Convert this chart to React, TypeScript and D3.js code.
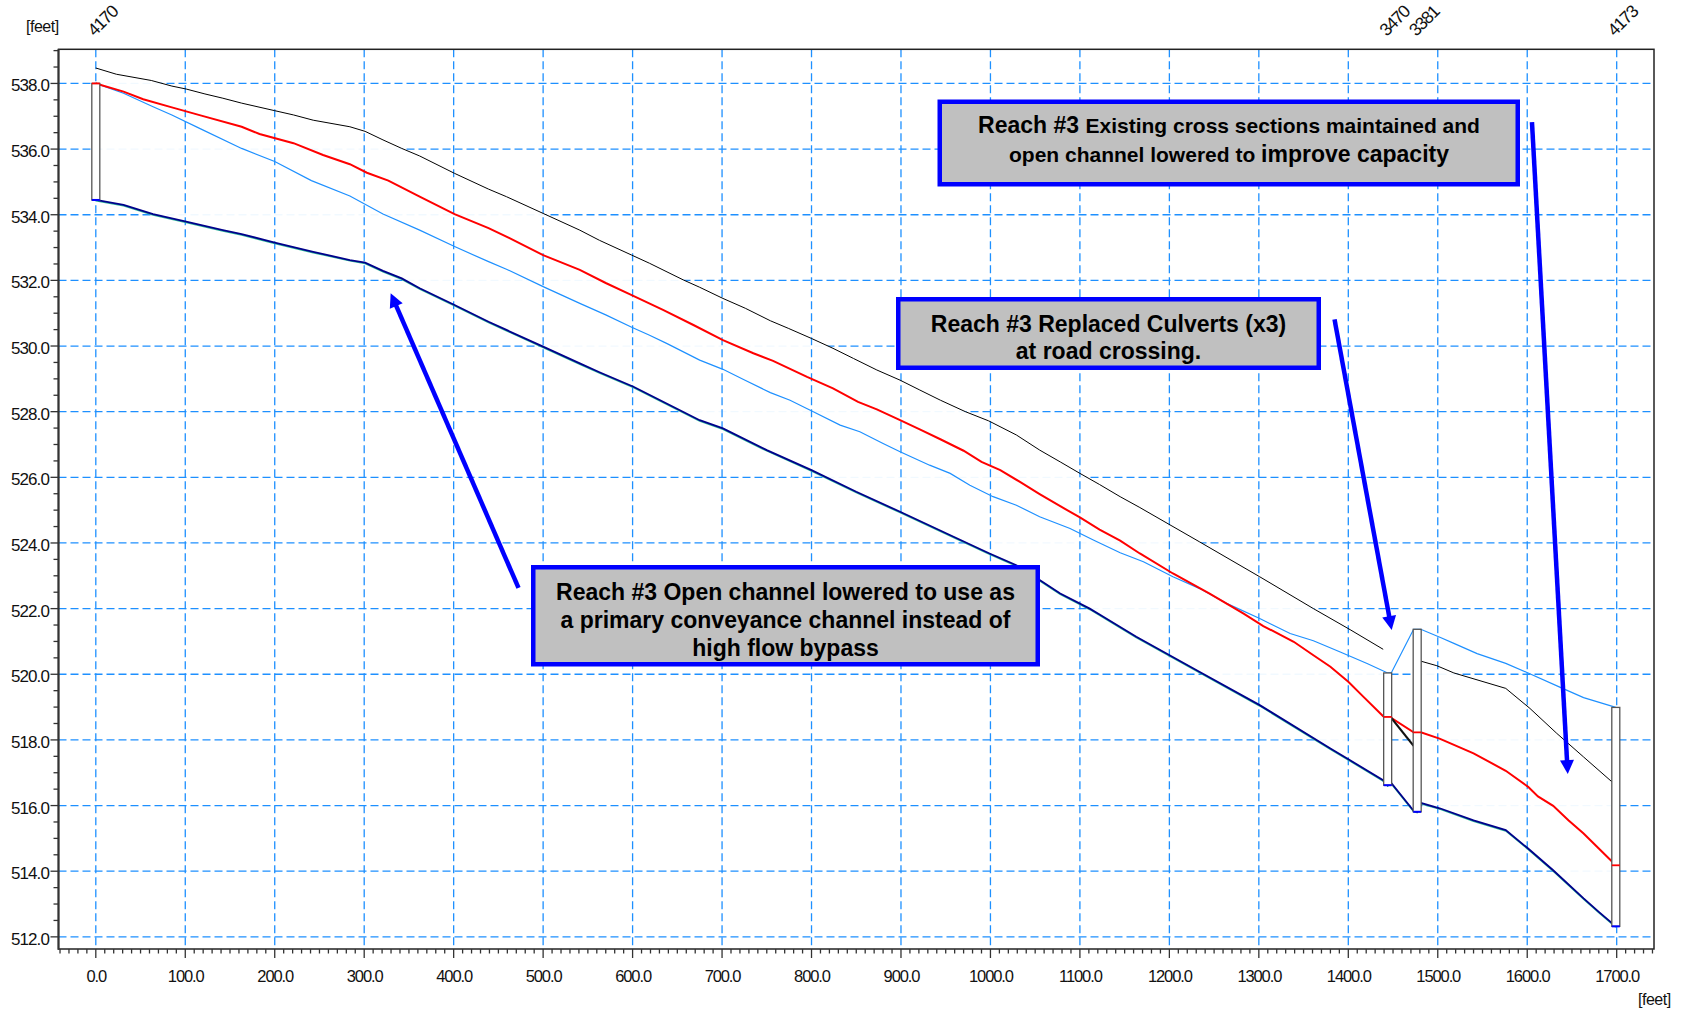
import React from 'react';
import * as d3 from 'd3';

type P = [number, number];

// ---------- data (station [ft], elevation [ft]) ----------
const topBankUpstream: P[] = [
  [0, 538.47], [23, 538.28], [62, 538.09], [85, 537.92], [101, 537.83], [122, 537.68], [142, 537.55],
  [163, 537.40], [200, 537.17], [221, 537.04], [243, 536.88], [284, 536.68], [301, 536.54], [321, 536.28],
  [342, 536.02], [362, 535.79], [401, 535.26], [439, 534.78], [459, 534.55], [500, 534.04], [541, 533.53],
  [563, 533.22], [599, 532.77], [619, 532.52], [657, 532.01], [675, 531.79], [701, 531.45], [726, 531.15],
  [754, 530.77], [774, 530.54], [800, 530.23], [824, 529.93], [847, 529.62], [873, 529.27], [899, 528.96],
  [921, 528.66], [944, 528.35], [972, 528.0], [998, 527.72], [1029, 527.29], [1055, 526.83], [1078, 526.47],
  [1100, 526.12], [1122, 525.78], [1145, 525.41], [1167, 525.08], [1234, 524.03], [1301, 522.97],
  [1361, 522.0], [1402, 521.36], [1439, 520.76],
];
const topBankDownstream: P[] = [
  [1477, 520.45], [1481, 520.40], [1499, 520.26], [1518, 520.04], [1576, 519.57], [1603, 518.96],
  [1633, 518.20], [1663, 517.48], [1699, 516.62],
];
const waterSurface: P[] = [
  [0, 538.0], [31, 537.75], [53, 537.52], [85, 537.27], [118, 537.02], [163, 536.68], [183, 536.46],
  [221, 536.18], [254, 535.82], [284, 535.54], [303, 535.28], [327, 535.04], [362, 534.55], [401, 534.02],
  [439, 533.59], [463, 533.28], [500, 532.77], [541, 532.32], [570, 531.92], [599, 531.55], [634, 531.10],
  [668, 530.64], [701, 530.18], [735, 529.78], [757, 529.55], [795, 529.06], [824, 528.71], [852, 528.30],
  [873, 528.07], [899, 527.74], [921, 527.46], [944, 527.16], [970, 526.81], [990, 526.47], [1011, 526.22],
  [1033, 525.86], [1055, 525.49], [1078, 525.12], [1100, 524.78], [1122, 524.41], [1145, 524.07],
  [1167, 523.68], [1204, 523.07], [1245, 522.46], [1283, 521.85], [1305, 521.47], [1339, 520.99],
  [1361, 520.58], [1380, 520.23], [1400, 519.77], [1417, 519.31], [1439, 518.72], [1444, 518.70],
  [1448, 518.67], [1473, 518.23], [1481, 518.23], [1502, 518.04], [1540, 517.59], [1576, 517.06],
  [1601, 516.57], [1612, 516.28], [1629, 515.99], [1646, 515.55], [1663, 515.15], [1680, 514.69],
  [1699, 514.18],
];
const energyGrade: P[] = [
  [0, 538.0], [31, 537.70], [64, 537.29], [85, 537.04], [116, 536.63], [163, 536.02], [200, 535.62],
  [241, 535.04], [284, 534.57], [321, 534.02], [362, 533.53], [401, 533.03], [439, 532.57], [459, 532.34],
  [500, 531.81], [541, 531.30], [570, 530.95], [599, 530.57], [619, 530.33], [638, 530.08], [675, 529.57],
  [701, 529.29], [724, 528.98], [754, 528.58], [776, 528.35], [802, 528.0], [832, 527.59], [854, 527.39],
  [880, 527.03], [899, 526.78], [932, 526.37], [955, 526.12], [977, 525.76], [1003, 525.41], [1029, 525.15],
  [1055, 524.80], [1089, 524.44], [1115, 524.09], [1145, 523.70], [1171, 523.43], [1204, 522.97],
  [1234, 522.61], [1264, 522.16], [1301, 521.70], [1335, 521.24], [1361, 521.02], [1391, 520.68],
  [1421, 520.33], [1444, 520.04], [1448, 520.04], [1473, 521.37], [1481, 521.37], [1503, 521.12],
  [1518, 520.94], [1544, 520.63], [1576, 520.33], [1601, 520.04], [1637, 519.60], [1663, 519.29],
  [1699, 518.99],
];
const channelBed: P[] = [
  [0, 534.45], [31, 534.30], [64, 534.02], [101, 533.79], [142, 533.53], [163, 533.41], [200, 533.15],
  [243, 532.87], [284, 532.62], [301, 532.54], [321, 532.29], [342, 532.06], [362, 531.76], [401, 531.25],
  [439, 530.74], [459, 530.49], [500, 529.98], [541, 529.47], [563, 529.20], [601, 528.76], [638, 528.25],
  [675, 527.74], [701, 527.49], [750, 526.83], [800, 526.22], [850, 525.56], [899, 524.95], [951, 524.29],
  [999, 523.68], [1029, 523.32], [1055, 522.87], [1078, 522.46], [1111, 522.0], [1122, 521.82],
  [1163, 521.14], [1234, 520.07], [1301, 519.06], [1380, 517.74], [1402, 517.38], [1439, 516.77],
  [1444, 516.62], [1448, 516.69], [1473, 515.84], [1477, 515.81], [1481, 516.08], [1503, 515.91],
  [1540, 515.55], [1576, 515.25], [1601, 514.69], [1629, 514.03], [1663, 513.17], [1680, 512.76],
  [1699, 512.32],
];
const culvertCrown: P[] = [[1448, 518.67], [1473, 517.82]];

const xsStations = [0, 1444, 1477, 1699];
const xsTop = [538.0, 520.04, 521.37, 518.99];
const xsBottom = [534.45, 516.62, 515.81, 512.32];
const xsWaterSurface = [538.0, 518.70, 518.23, 514.18];
const xsLabels = ['4170', '3470', '3381', '4173'];

const xTickValues = d3.range(0, 1701, 100);
const yTickValues = d3.range(512, 538.01, 2);

// arrows in data space: [tailStation, tailElev, tipStation, tipElev]
const arrows: [number, number, number, number][] = [
  [472.5, 522.63, 329.6, 531.61],
  [1384.6, 530.81, 1448.5, 521.35],
  [1605.3, 536.82, 1645.3, 516.96],
];

// ---------- layout ----------
const W = 1686, H = 1010;
const L = 58.5, R = 1654, T = 49.3, B = 949;
const FONT = "'Liberation Sans', Arial, Helvetica, sans-serif";
const GRID = '#1E90FF';

const x = d3.scaleLinear().domain([-41.7, 1741.7]).range([L, R]);
const y = d3.scaleLinear().domain([511.63, 539.04]).range([B, T]);
const line = d3.line<P>().x(d => x(d[0])).y(d => y(d[1]));

function fillArea(top: P[], bottom: P[]): string {
  const pts: P[] = [...top, ...bottom.slice().reverse()];
  return 'M' + pts.map(p => `${x(p[0])},${y(p[1])}`).join('L') + 'Z';
}

function arrowPath(a: [number, number, number, number]) {
  const x1 = x(a[0]), y1 = y(a[1]), x2 = x(a[2]), y2 = y(a[3]);
  const dx = x2 - x1, dy = y2 - y1, len = Math.hypot(dx, dy);
  const ux = dx / len, uy = dy / len;
  const hl = 14, hw = 7;
  const bx = x2 - ux * hl, by = y2 - uy * hl;
  const px = -uy, py = ux;
  return {
    shaft: `M${x1},${y1}L${bx + ux * 2},${by + uy * 2}`,
    head: `M${x2},${y2}L${bx + px * hw},${by + py * hw}L${bx - px * hw},${by - py * hw}Z`,
  };
}

const bedUp = channelBed.filter(p => p[0] <= 1439);
const bedDown = channelBed.filter(p => p[0] >= 1477);

export default function App() {
  const minorX = d3.range(-40, 1741, 10);
  const minorY = d3.range(512, 539.01, 0.5);
  return (
    <svg width={W} height={H} style={{ position: 'absolute', left: 0, top: 0, background: '#fff' }}
      fontFamily={FONT}>
      <rect x={0} y={0} width={W} height={H} fill="#fff" />
      {/* horizontal grid (masked inside the channel) */}
      <g stroke={GRID} strokeWidth={1.3} strokeDasharray="8,4">
        {yTickValues.map(v => (
          <line key={'gy' + v} x1={L} x2={R} y1={y(v)} y2={y(v)} />
        ))}
      </g>
      <path d={fillArea(topBankUpstream, bedUp)} fill="#fff" fillOpacity={0.94} />
      <path d={fillArea(topBankDownstream, bedDown)} fill="#fff" fillOpacity={0.94} />
      {/* vertical grid */}
      <g stroke={GRID} strokeWidth={1.3} strokeDasharray="8,4">
        {xTickValues.map(v => (
          <line key={'gx' + v} x1={x(v)} x2={x(v)} y1={T} y2={B} />
        ))}
      </g>

      {/* series */}
      <path d={line(channelBed) || ''} fill="none" stroke="#2fb89a" strokeWidth={1.4} transform="translate(0,0.9)" />
      <path d={line(topBankUpstream) || ''} fill="none" stroke="#000" strokeWidth={1} />
      <path d={line(topBankDownstream) || ''} fill="none" stroke="#000" strokeWidth={1} />
      <path d={line(energyGrade) || ''} fill="none" stroke="#1E90FF" strokeWidth={1.2} />
      <path d={line(waterSurface) || ''} fill="none" stroke="#FF0000" strokeWidth={2} />
      <path d={line(culvertCrown) || ''} fill="none" stroke="#111" strokeWidth={2.2} />
      <path d={line(channelBed) || ''} fill="none" stroke="#00008B" strokeWidth={1.8} />

      {/* cross-section markers */}
      {xsStations.map((s, i) => (
        <g key={'xs' + i}>
          <rect x={x(s) - 4} y={y(xsTop[i])} width={8} height={y(xsBottom[i]) - y(xsTop[i])}
            fill="#fff" stroke="#555" strokeWidth={1.3} />
          <line x1={x(s) - 4} x2={x(s) + 4} y1={y(xsWaterSurface[i])} y2={y(xsWaterSurface[i])}
            stroke="#FF0000" strokeWidth={1.8} />
          <line x1={x(s) - 4} x2={x(s) + 4} y1={y(xsBottom[i])} y2={y(xsBottom[i])}
            stroke="#0000FF" strokeWidth={2} />
        </g>
      ))}

      {/* frame */}
      <rect x={L} y={T} width={R - L} height={B - T} fill="none" stroke="#222" strokeWidth={1.5} />
      <line x1={L} x2={L} y1={T} y2={B + 0.75} stroke="#333" strokeWidth={2} />

      {/* ticks */}
      <g stroke="#333" strokeWidth={1.3}>
        {minorX.map(v => (
          <line key={'tx' + v} x1={x(v)} x2={x(v)} y1={B} y2={B + (v % 100 === 0 ? 9 : 4.5)} />
        ))}
        {minorY.map(v => (
          <line key={'ty' + v} x1={L} x2={L - (v % 2 === 0 ? 8 : 5)} y1={y(v)} y2={y(v)} />
        ))}
      </g>
      <g fontSize={16.5} fill="#111" textAnchor="middle" letterSpacing={-1.1}>
        {xTickValues.map(v => (
          <text key={'lx' + v} x={x(v) + 0.5} y={981.5}>{v.toFixed(1)}</text>
        ))}
      </g>
      <g fontSize={17} fill="#111" textAnchor="end" letterSpacing={-0.9}>
        {yTickValues.map(v => (
          <text key={'ly' + v} x={49} y={y(v) + 8}>{v.toFixed(1)}</text>
        ))}
      </g>
      <text x={26} y={31.5} fontSize={16} letterSpacing={-0.5} fill="#111">[feet]</text>
      <text x={1638} y={1005} fontSize={16} letterSpacing={-0.5} fill="#111">[feet]</text>
      <g fontSize={17.5} fill="#111" letterSpacing={-1.2}>
        {xsStations.map((s, i) => (
          <text key={'xl' + i} transform={`translate(${x(s) - 1},37) rotate(-45)`}>{xsLabels[i]}</text>
        ))}
      </g>

      {/* annotations */}
      <g fontWeight="bold" fill="#000" textAnchor="middle">
        <rect x={939.75} y={101.75} width={578} height={82.5} fill="#C0C0C0" stroke="#0000FF" strokeWidth={4.5} />
        <text x={1229} y={133.3}>
          <tspan fontSize={23}>Reach #3 </tspan><tspan fontSize={21}>Existing cross sections maintained and</tspan>
        </text>
        <text x={1229} y={162.3}>
          <tspan fontSize={21}>open channel lowered to </tspan><tspan fontSize={23}>improve capacity</tspan>
        </text>

        <rect x={898.25} y={299.25} width={420.5} height={68.5} fill="#C0C0C0" stroke="#0000FF" strokeWidth={4.5} />
        <text x={1108.5} y={331.7} fontSize={23}>Reach #3 Replaced Culverts (x3)</text>
        <text x={1108.5} y={359.3} fontSize={23}>at road crossing.</text>

        <rect x={533.25} y={567.25} width={504.5} height={97} fill="#C0C0C0" stroke="#0000FF" strokeWidth={4.5} />
        <text x={785.5} y={600} fontSize={23}>Reach #3 Open channel lowered to use as</text>
        <text x={785.5} y={628} fontSize={23}>a primary conveyance channel instead of</text>
        <text x={785.5} y={656} fontSize={23}>high flow bypass</text>
      </g>

      {arrows.map((a, i) => {
        const p = arrowPath(a);
        return (
          <g key={'ar' + i}>
            <path d={p.shaft} stroke="#0000FF" strokeWidth={4.5} fill="none" />
            <path d={p.head} fill="#0000FF" />
          </g>
        );
      })}
    </svg>
  );
}
